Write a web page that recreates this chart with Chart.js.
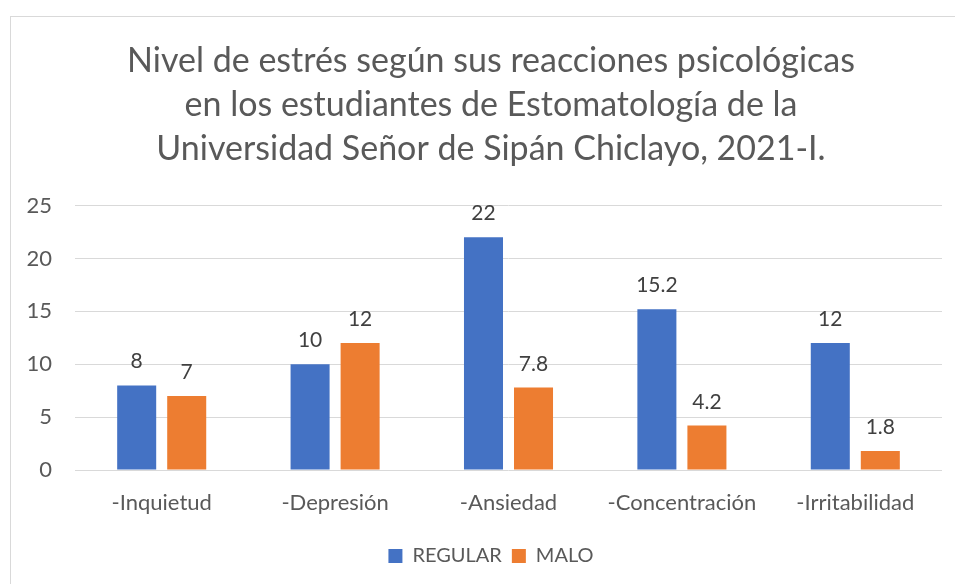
<!DOCTYPE html>
<html>
<head>
<meta charset="utf-8">
<script src="https://cdn.jsdelivr.net/npm/chart.js@4"></script>
<style>
  html, body { margin: 0; padding: 0; background: #fff; overflow: hidden; }
  #frame { position: absolute; left: 10px; top: 16px; width: 1000px; height: 700px;
           border-top: 1px solid #D9D9D9; border-left: 1px solid #D9D9D9; }
  #c { position: absolute; left: 0; top: 0; }
</style>
</head>
<body>
<div id="frame"><canvas id="c" width="960" height="567"></canvas></div>
<script>
const titleLines = [
  "Nivel de estrés según sus reacciones psicológicas",
  "en los estudiantes de Estomatología de la",
  "Universidad Señor de Sipán Chiclayo, 2021-I."
];
const categories = ["-Inquietud", "-Depresión", "-Ansiedad", "-Concentración", "-Irritabilidad"];
const regular = [8, 10, 22, 15.2, 12];
const malo = [7, 12, 7.8, 4.2, 1.8];
const seriesNames = ["REGULAR", "MALO"];
const yTicks = [0, 5, 10, 15, 20, 25];

const FONT = "Lato, 'Open Sans', sans-serif";
const GREY = "#595959";

const valueLabels = {
  id: "valueLabels",
  afterDatasetsDraw(chart) {
    const ctx = chart.ctx;
    ctx.save();
    ctx.font = "21px " + FONT;
    ctx.fillStyle = "#404040";
    ctx.textAlign = "center";
    ctx.textBaseline = "alphabetic";
    chart.data.datasets.forEach((ds, i) => {
      chart.getDatasetMeta(i).data.forEach((bar, j) => {
        ctx.fillText(String(ds.data[j]), bar.x, bar.y - 17);
      });
    });
    ctx.restore();
  }
};

// center title and legend on the full canvas width
const recenter = {
  id: "recenter",
  afterLayout(chart) {
    if (chart.titleBlock) { chart.titleBlock.right = chart.width; chart.titleBlock.width = chart.width - chart.titleBlock.left; }
    if (chart.legend) { chart.legend.right = chart.width; chart.legend.width = chart.width - chart.legend.left; }
  }
};

new Chart(document.getElementById("c"), {
  type: "bar",
  data: {
    labels: categories,
    datasets: [
      { label: seriesNames[0], data: regular, backgroundColor: "#4472C4" },
      { label: seriesNames[1], data: malo, backgroundColor: "#ED7D31" }
    ]
  },
  plugins: [valueLabels, recenter],
  options: {
    responsive: false,
    animation: false,
    devicePixelRatio: 1,
    layout: { padding: { left: 0, right: 29, top: 0, bottom: 8 } },
    datasets: { bar: { categoryPercentage: 0.577, barPercentage: 0.78 } },
    plugins: {
      tooltip: { enabled: false },
      title: {
        display: true,
        text: titleLines,
        color: GREY,
        font: { family: FONT, size: 34, weight: "normal", lineHeight: 1.3 },
        padding: { top: 22, bottom: 34 }
      },
      legend: {
        position: "bottom",
        labels: {
          color: GREY,
          font: { family: FONT, size: 20 },
          boxWidth: 14, boxHeight: 14,
          padding: 10
        }
      }
    },
    scales: {
      x: {
        grid: { display: false, drawTicks: false },
        border: { display: false },
        ticks: { color: GREY, font: { family: FONT, size: 22 }, padding: 20 },
        afterFit(s) { s.height = 66; }
      },
      y: {
        min: 0, max: 25,
        afterBuildTicks(s) { s.ticks = yTicks.map(v => ({ value: v })); },
        grid: { color: "#D9D9D9", lineWidth: 1, drawTicks: false },
        border: { display: false },
        ticks: { color: GREY, font: { family: FONT, size: 22 }, padding: 23 },
        afterFit(s) { s.width = 64; }
      }
    }
  }
});
</script>
</body>
</html>
